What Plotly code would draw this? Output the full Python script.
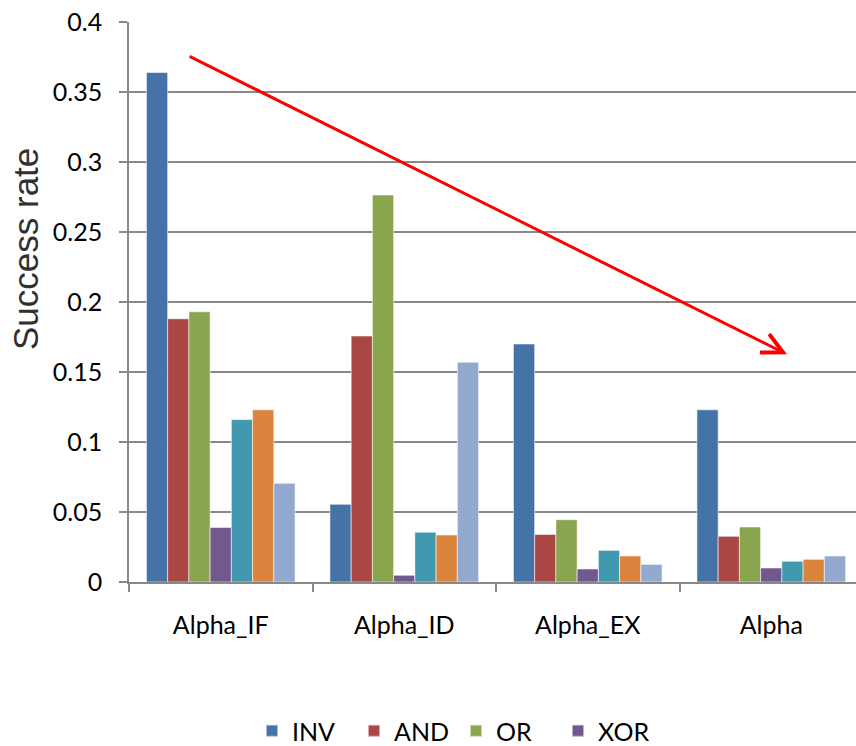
import plotly.graph_objects as go

# Categories and per-gate success rates
categories = ["Alpha_IF", "Alpha_ID", "Alpha_EX", "Alpha"]
series_names = ["INV", "AND", "OR", "XOR", "NAND", "NOR", "XNOR"]
inv = [0.364, 0.0555, 0.170, 0.123]
and_ = [0.188, 0.1757, 0.034, 0.0326]
or_ = [0.193, 0.2764, 0.0445, 0.0393]
xor = [0.039, 0.0048, 0.0093, 0.010]
nand = [0.116, 0.0355, 0.0226, 0.0148]
nor = [0.123, 0.0336, 0.0186, 0.0162]
xnor = [0.0705, 0.157, 0.0126, 0.0186]
colors = ["#4572A7", "#AA4643", "#89A54E", "#71588F", "#4198AF", "#DB843D", "#93A9CF"]
legend_shown = [True, True, True, True, False, False, False]

y_ticks = [0, 0.05, 0.1, 0.15, 0.2, 0.25, 0.3, 0.35, 0.4]
y_tick_text = ["0", "0.05", "0.1", "0.15", "0.2", "0.25", "0.3", "0.35", "0.4"]

# Trend arrow (start -> tip), in axis units
arrow_start = (-0.178, 0.376)
arrow_tip = (3.086, 0.1626)

W, H = 856, 746
ML, MR, MT, MB = 129, 0, 22, 164
PW, PH = W - ML - MR, H - MT - MB
FONT = "Lato, 'Liberation Sans', sans-serif"
GRID = "#888888"

fig = go.Figure()
for name, vals, col, show in zip(series_names, [inv, and_, or_, xor, nand, nor, xnor], colors, legend_shown):
    fig.add_trace(go.Bar(
        x=categories, y=vals, name=name, showlegend=show,
        marker=dict(color=col, line=dict(color="rgba(255,255,255,0.55)", width=1)),
    ))

fig.add_annotation(
    x=arrow_tip[0], y=arrow_tip[1], ax=arrow_start[0], ay=arrow_start[1],
    xref="x", yref="y", axref="x", ayref="y",
    showarrow=True, arrowhead=5, arrowsize=1.35, arrowwidth=3,
    arrowcolor="#FF0000", text="",
)

# Y-axis title placed as a rotated annotation
fig.add_annotation(
    x=(25 - ML) / PW, y=(H - MB - 249) / PH,
    xref="paper", yref="paper", text="Success rate", textangle=-90,
    showarrow=False, font=dict(family="'Liberation Sans', Arial, sans-serif", size=35, color="#303030"),
    xanchor="center", yanchor="middle",
)

fig.update_layout(
    width=W, height=H,
    margin=dict(l=ML, r=MR, t=MT, b=MB, autoexpand=False),
    paper_bgcolor="white", plot_bgcolor="white",
    barmode="group", bargap=0.19, bargroupgap=0,
    font=dict(family=FONT, size=25, color="black"),
    legend=dict(
        orientation="h", x=(252 - ML) / PW, xanchor="left",
        y=-(731 - (H - MB)) / PH, yanchor="middle",
        entrywidth=57, entrywidthmode="pixels",
        font=dict(family=FONT, size=25, color="black"),
        itemsizing="constant", bgcolor="rgba(0,0,0,0)",
    ),
    xaxis=dict(
        type="category", range=[-0.5, -0.5 + PW / 183.5],
        showgrid=False, showline=True, linecolor=GRID, linewidth=1.5,
        ticks="outside", tickson="boundaries", ticklen=8, tickwidth=1.5, tickcolor=GRID,
        ticklabelstandoff=20, tickfont=dict(family=FONT, size=25, color="black"),
        zeroline=False,
    ),
    yaxis=dict(
        range=[0, 0.4], tickvals=y_ticks, ticktext=y_tick_text,
        showgrid=True, gridcolor=GRID, gridwidth=1.5,
        showline=True, linecolor=GRID, linewidth=1.5,
        ticks="outside", ticklen=8, tickwidth=1.5, tickcolor=GRID,
        ticklabelstandoff=12, tickfont=dict(family=FONT, size=25, color="black"),
        zeroline=False,
    ),
)

fig.write_html("out.html")
